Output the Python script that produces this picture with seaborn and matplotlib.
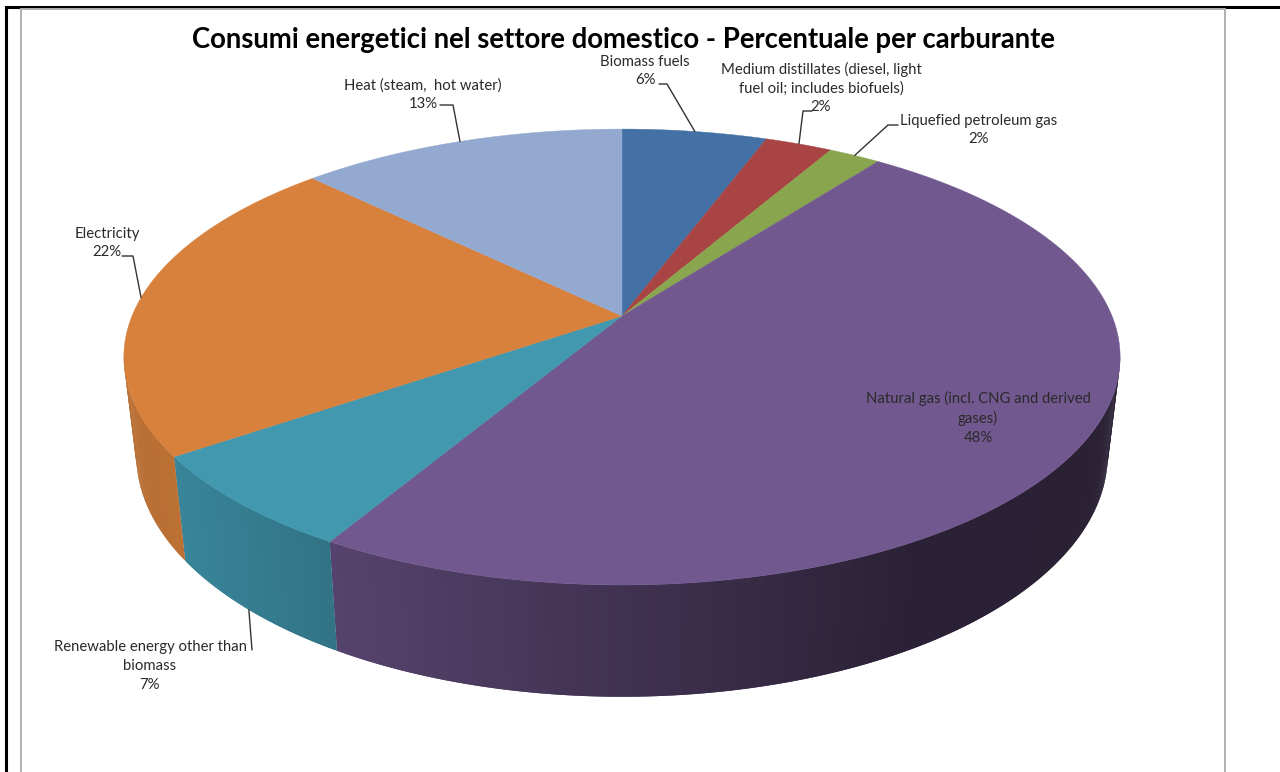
import numpy as np
import matplotlib
matplotlib.use("Agg")
import matplotlib.pyplot as plt
import seaborn as sns

# ---- data ----
labels = ["Biomass fuels\n6%",
          "Medium distillates (diesel, light\nfuel oil; includes biofuels)\n2%",
          "Liquefied petroleum gas\n2%",
          "Natural gas (incl. CNG and derived\ngases)\n48%",
          "Renewable energy other than\nbiomass\n7%",
          "Electricity\n22%",
          "Heat (steam,  hot water)\n13%"]
values = [5.6, 2.6, 2.0, 48.2, 6.9, 22.1, 12.6]
colors = ["#4471a5", "#a94444", "#89a54e", "#71588f", "#4198af", "#d8813c", "#93a9cf"]
title = "Consumi energetici nel settore domestico - Percentuale per carburante"

# ---- layout (pixels of the reference) ----
label_xy = [(645, 71), (821, 88), (979, 130), (978, 418), (150, 666), (107, 243), (423, 95)]
elbows = [[(659, 84), (667, 84)], [(812, 111), (803, 111)], [(898, 125), (888, 125)],
          None, [(252, 650)], [(122, 256), (133, 256)], [(440, 105), (453, 105)]]
CX, CY, A, B, K = 622, 316, 490.0, 163.7, -0.18
SHADE_X = [130, 186, 338, 600, 900, 1120]
SHADE_F = [.85, .87, .76, .58, .38, .37]

sns.set_theme(style="white")
plt.rcParams["font.family"] = ["Lato", "DejaVu Sans"]
palette = sns.color_palette(colors)


def top(deg):
    t = np.radians(deg)
    u, v = np.sin(t), -np.cos(t)
    d = 1 + K * v
    return CX + A * u / d, (CY + B * v) / d


def bottom(deg):
    x, y = top(deg)
    return CX + .975 * (x - CX), 560 + 1.06 * (y - 456)


fig = plt.figure(figsize=(12.8, 7.72), dpi=100)
ax = fig.add_axes([0, 0, 1, 1])
ax.set_xlim(0, 1280)
ax.set_ylim(772, 0)
ax.axis("off")

# frames
ax.plot([6, 6, 1280], [772, 7, 7], color="black", lw=2.2, solid_joinstyle="miter", zorder=1)
ax.plot([21, 21, 1225, 1225], [772, 9, 9, 772], color="#b0b0b0", lw=1.4, solid_joinstyle="miter", zorder=1)

frac = np.asarray(values) / np.sum(values)
edges = np.concatenate([[0], np.cumsum(frac)]) * 360

# side wall: overlapping quads, later ones paint over the seam of the previous
for i, c in enumerate(palette):
    lo, hi = max(edges[i], 100.4), min(edges[i + 1], 259.6)
    if hi <= lo:
        continue
    grid = np.linspace(lo, hi, max(3, int((hi - lo) * 3) + 1))
    for j in range(len(grid) - 1):
        a, b = grid[j], grid[min(j + 2, len(grid) - 1)]
        xa, ya = top(a); xb, yb = top(b)
        xc, yc = bottom(b); xd, yd = bottom(a)
        f = np.interp((xc + xd) / 2, SHADE_X, SHADE_F)
        col = tuple(np.array(c) * f)
        ax.fill([xa, xb, xc, xd], [ya, yb, yc, yd], color=col, lw=0, zorder=2 + i * 0.01)

# top surface
for i, c in enumerate(palette):
    g = np.linspace(edges[i], edges[i + 1], 200)
    x, y = top(g)
    ax.fill(np.r_[CX, x], np.r_[CY, y], color=c, lw=0.3, zorder=3)

# leaders
for i, el in enumerate(elbows):
    if el is None:
        continue
    mid = (edges[i] + edges[i + 1]) / 2
    ax_, ay_ = bottom(mid) if labels[i].startswith("Renewable") else top(mid)
    xs = [p[0] for p in el] + [ax_]
    ys = [p[1] for p in el] + [ay_]
    ax.plot(xs, ys, color="#333333", lw=1.0, zorder=4)

# labels
for txt, (x, y) in zip(labels, label_xy):
    ax.text(x, y, txt, ha="center", va="center", fontsize=10.7, color="#2a2a2a",
            linespacing=1.42, zorder=5)

ax.text(623, 40, title, ha="center", va="center", fontsize=19.8, fontweight="bold",
        color="black", zorder=5)

fig.savefig("out.png", dpi=100)
